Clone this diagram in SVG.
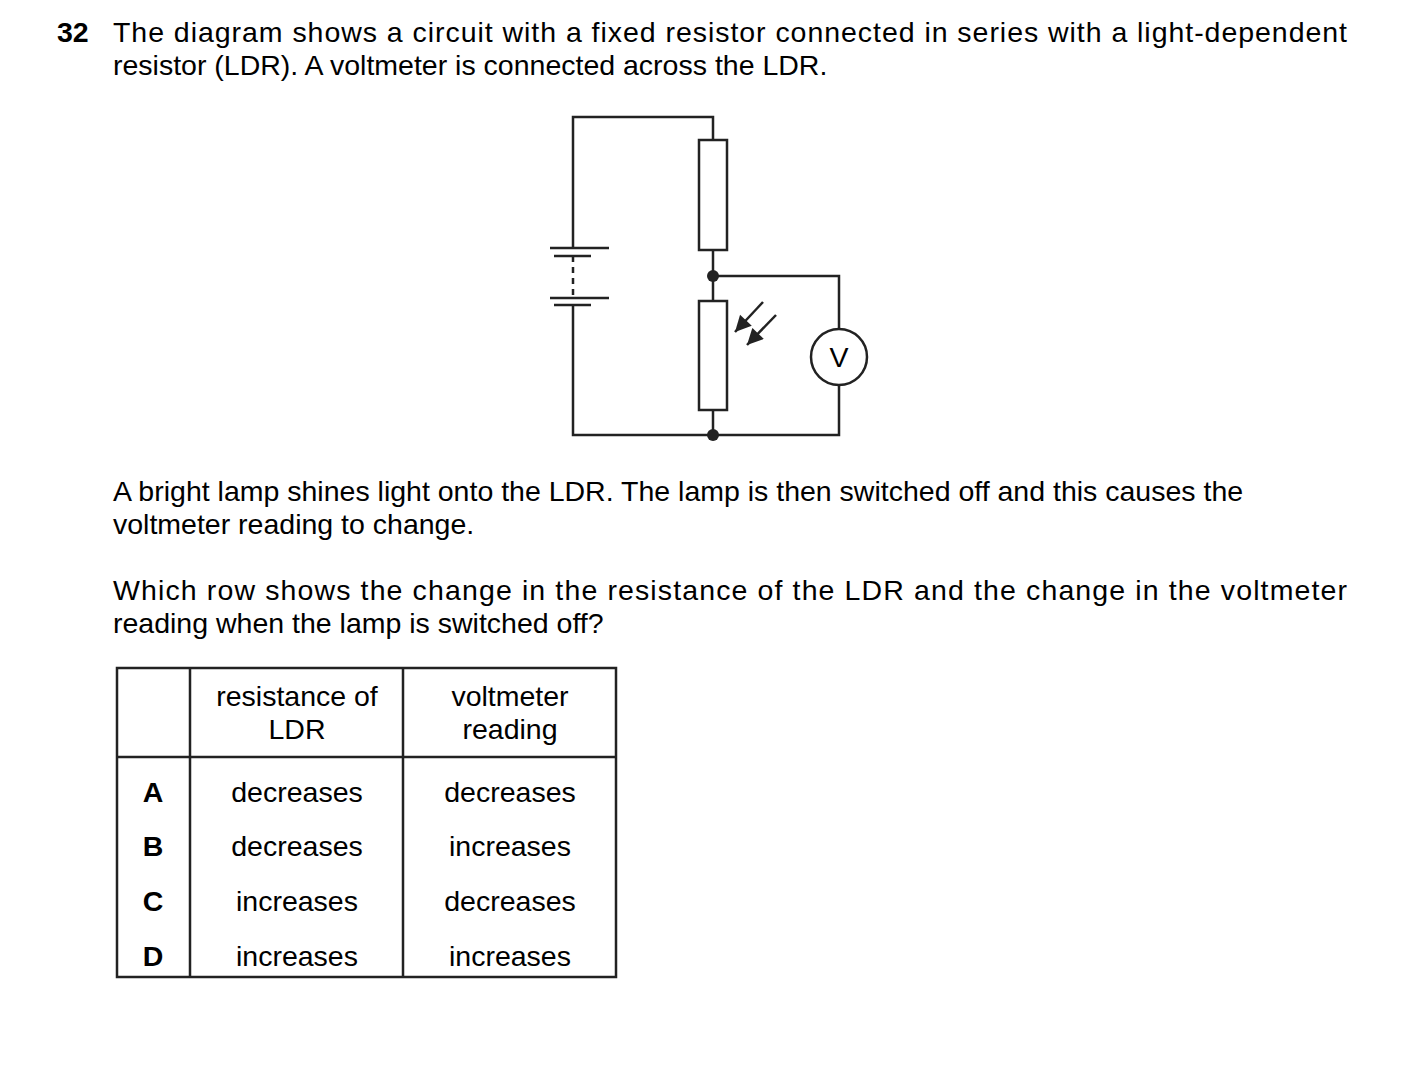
<svg xmlns="http://www.w3.org/2000/svg" width="1403" height="1071" viewBox="0 0 1403 1071">
<style>
text{font-family:"Liberation Sans",Arial,sans-serif;font-size:28.5px;fill:#000}
.w{stroke:#222;stroke-width:2.5;fill:none}
.c{text-anchor:middle}
.b{font-weight:bold}
</style>
<defs>
<marker id="ah2" viewBox="0 0 10 10" refX="10" refY="5" markerWidth="18" markerHeight="16" orient="auto" markerUnits="userSpaceOnUse"><path d="M0,0 L10,5 L0,10z" fill="#222"/></marker></defs>
<rect width="1403" height="1071" fill="#fff"/>
<text x="57" y="42" class="b">32</text>
<text x="113" y="42" textLength="1234" lengthAdjust="spacing">The diagram shows a circuit with a fixed resistor connected in series with a light-dependent</text>
<text x="113" y="75">resistor (LDR). A voltmeter is connected across the LDR.</text>
<g id="connectors" class="w">
<path d="M573,248 V117 H713 V140"/>
<path d="M713,250 V301"/>
<path d="M713,276 H839 V329"/>
<path d="M839,385 V435 H573 V305"/>
<path d="M713,410 V435"/>
</g>
<g id="battery" class="w">
<line x1="550" y1="248" x2="609" y2="248"/><line x1="554" y1="256" x2="591" y2="256"/>
<line x1="573" y1="256" x2="573" y2="298" stroke-dasharray="6,5"/>
<line x1="550" y1="298" x2="609" y2="298"/><line x1="554" y1="305" x2="591" y2="305"/>
</g>
<g id="resistor"><rect x="699" y="140" width="28" height="110" class="w" fill="#fff"/></g>
<g id="ldr"><rect x="699" y="301" width="28" height="109" class="w"/>
<line x1="763" y1="302" x2="735" y2="332" class="w" marker-end="url(#ah2)"/>
<line x1="776" y1="315" x2="747" y2="345" class="w" marker-end="url(#ah2)"/></g>
<g id="voltmeter"><circle cx="839" cy="357" r="28" class="w" fill="#fff"/><text x="839" y="367" class="c" font-size="26">V</text></g>
<g id="junctions" fill="#222"><circle cx="713" cy="276" r="6"/><circle cx="713" cy="435" r="6"/></g>
<text x="113" y="501">A bright lamp shines light onto the LDR. The lamp is then switched off and this causes the</text>
<text x="113" y="534">voltmeter reading to change.</text>
<text x="113" y="600" textLength="1234" lengthAdjust="spacing">Which row shows the change in the resistance of the LDR and the change in the voltmeter</text>
<text x="113" y="633">reading when the lamp is switched off?</text>
<g id="table">
<rect x="117" y="668" width="499" height="309" class="w" stroke-width="1.5"/>
<line x1="190" y1="668" x2="190" y2="977" class="w" stroke-width="1.5"/>
<line x1="403" y1="668" x2="403" y2="977" class="w" stroke-width="1.5"/>
<line x1="117" y1="757" x2="616" y2="757" class="w" stroke-width="1.5"/>
<text x="297" y="706" class="c">resistance of</text><text x="297" y="739" class="c">LDR</text>
<text x="510" y="706" class="c">voltmeter</text><text x="510" y="739" class="c">reading</text>
<text x="153" y="802" class="c b">A</text><text x="297" y="802" class="c">decreases</text><text x="510" y="802" class="c">decreases</text>
<text x="153" y="856" class="c b">B</text><text x="297" y="856" class="c">decreases</text><text x="510" y="856" class="c">increases</text>
<text x="153" y="911" class="c b">C</text><text x="297" y="911" class="c">increases</text><text x="510" y="911" class="c">decreases</text>
<text x="153" y="966" class="c b">D</text><text x="297" y="966" class="c">increases</text><text x="510" y="966" class="c">increases</text>
</g>
</svg>
